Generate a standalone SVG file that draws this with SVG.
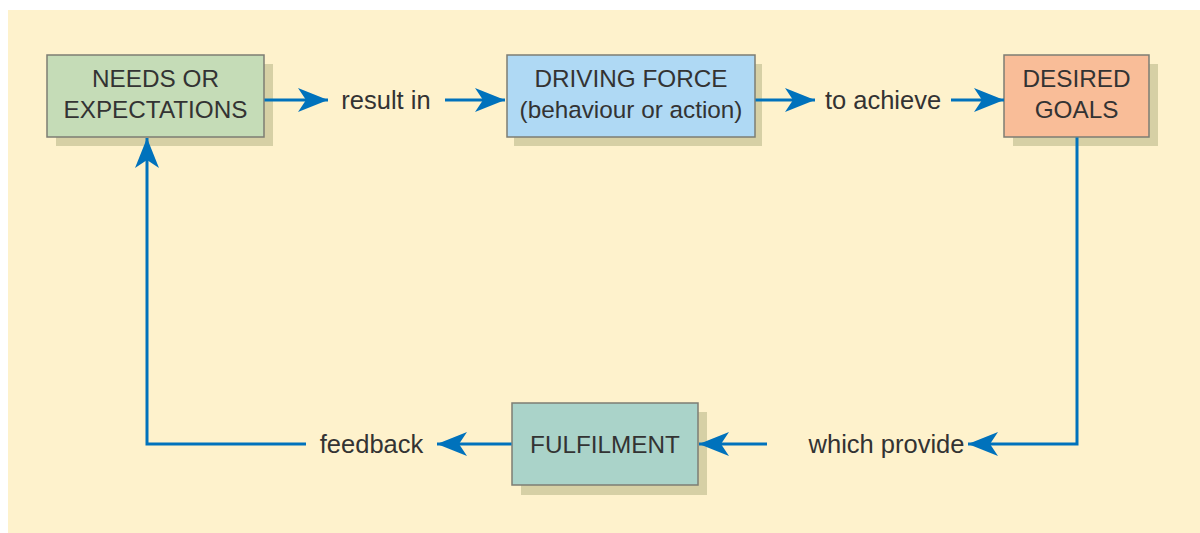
<svg xmlns="http://www.w3.org/2000/svg" width="1200" height="533" viewBox="0 0 1200 533">
<defs>
<style>
.box{stroke:#7d7d73;stroke-width:1.5}
.sh{fill:#d6d0a5}
.t{font-family:"Liberation Sans",Arial,sans-serif;font-size:24.3px;fill:#333333;text-anchor:middle}
.l{font-family:"Liberation Sans",Arial,sans-serif;font-size:25.5px;fill:#333333;text-anchor:middle}
.c{fill:none;stroke:#0072bc;stroke-width:3}
</style>
<marker id="ah" viewBox="0 0 30 24" refX="30" refY="12" markerWidth="30" markerHeight="24" markerUnits="userSpaceOnUse" orient="auto">
<path d="M0,0 L30,12 L0,24 L8,12 Z" fill="#0072bc"/>
</marker>
</defs>
<rect x="8" y="10" width="1192" height="523" fill="#fef2cc"/>
<g id="needs">
<rect class="sh" x="56" y="64" width="217" height="82"/>
<rect class="box" x="47" y="55" width="217" height="82" fill="#c5dcb7"/>
<text class="t" x="155.5" y="86.5">NEEDS OR</text>
<text class="t" x="155.5" y="117.5">EXPECTATIONS</text>
</g>
<g id="driving">
<rect class="sh" x="514" y="64" width="248" height="82"/>
<rect class="box" x="507" y="55" width="248" height="82" fill="#afd9f4"/>
<text class="t" x="631" y="86.5">DRIVING FORCE</text>
<text class="t" x="631" y="117.5">(behaviour or action)</text>
</g>
<g id="desired">
<rect class="sh" x="1013" y="64" width="145" height="82"/>
<rect class="box" x="1004" y="55" width="145" height="82" fill="#f9bd98"/>
<text class="t" x="1076.5" y="86.5">DESIRED</text>
<text class="t" x="1076.5" y="117.5">GOALS</text>
</g>
<g id="fulfilment">
<rect class="sh" x="521" y="412" width="186" height="83"/>
<rect class="box" x="512" y="403" width="186" height="82" fill="#aad3c9"/>
<text class="t" x="605" y="452.5">FULFILMENT</text>
</g>
<g id="connectors">
<path class="c" d="M264.5,100 H328" marker-end="url(#ah)"/>
<path class="c" d="M445,100 H505" marker-end="url(#ah)"/>
<path class="c" d="M755.5,100 H815" marker-end="url(#ah)"/>
<path class="c" d="M951,100 H1004" marker-end="url(#ah)"/>
<path class="c" d="M1077,137.5 V444 H968" marker-end="url(#ah)"/>
<path class="c" d="M767,444 H699" marker-end="url(#ah)"/>
<path class="c" d="M511.5,444 H437" marker-end="url(#ah)"/>
<path class="c" d="M306,444 H147 V138" marker-end="url(#ah)"/>
</g>
<g id="lbl-result"><text class="l" x="386" y="109">result in</text></g>
<g id="lbl-achieve"><text class="l" x="883" y="109">to achieve</text></g>
<g id="lbl-provide"><text class="l" x="886.5" y="453">which provide</text></g>
<g id="lbl-feedback"><text class="l" x="371.5" y="453">feedback</text></g>
</svg>
